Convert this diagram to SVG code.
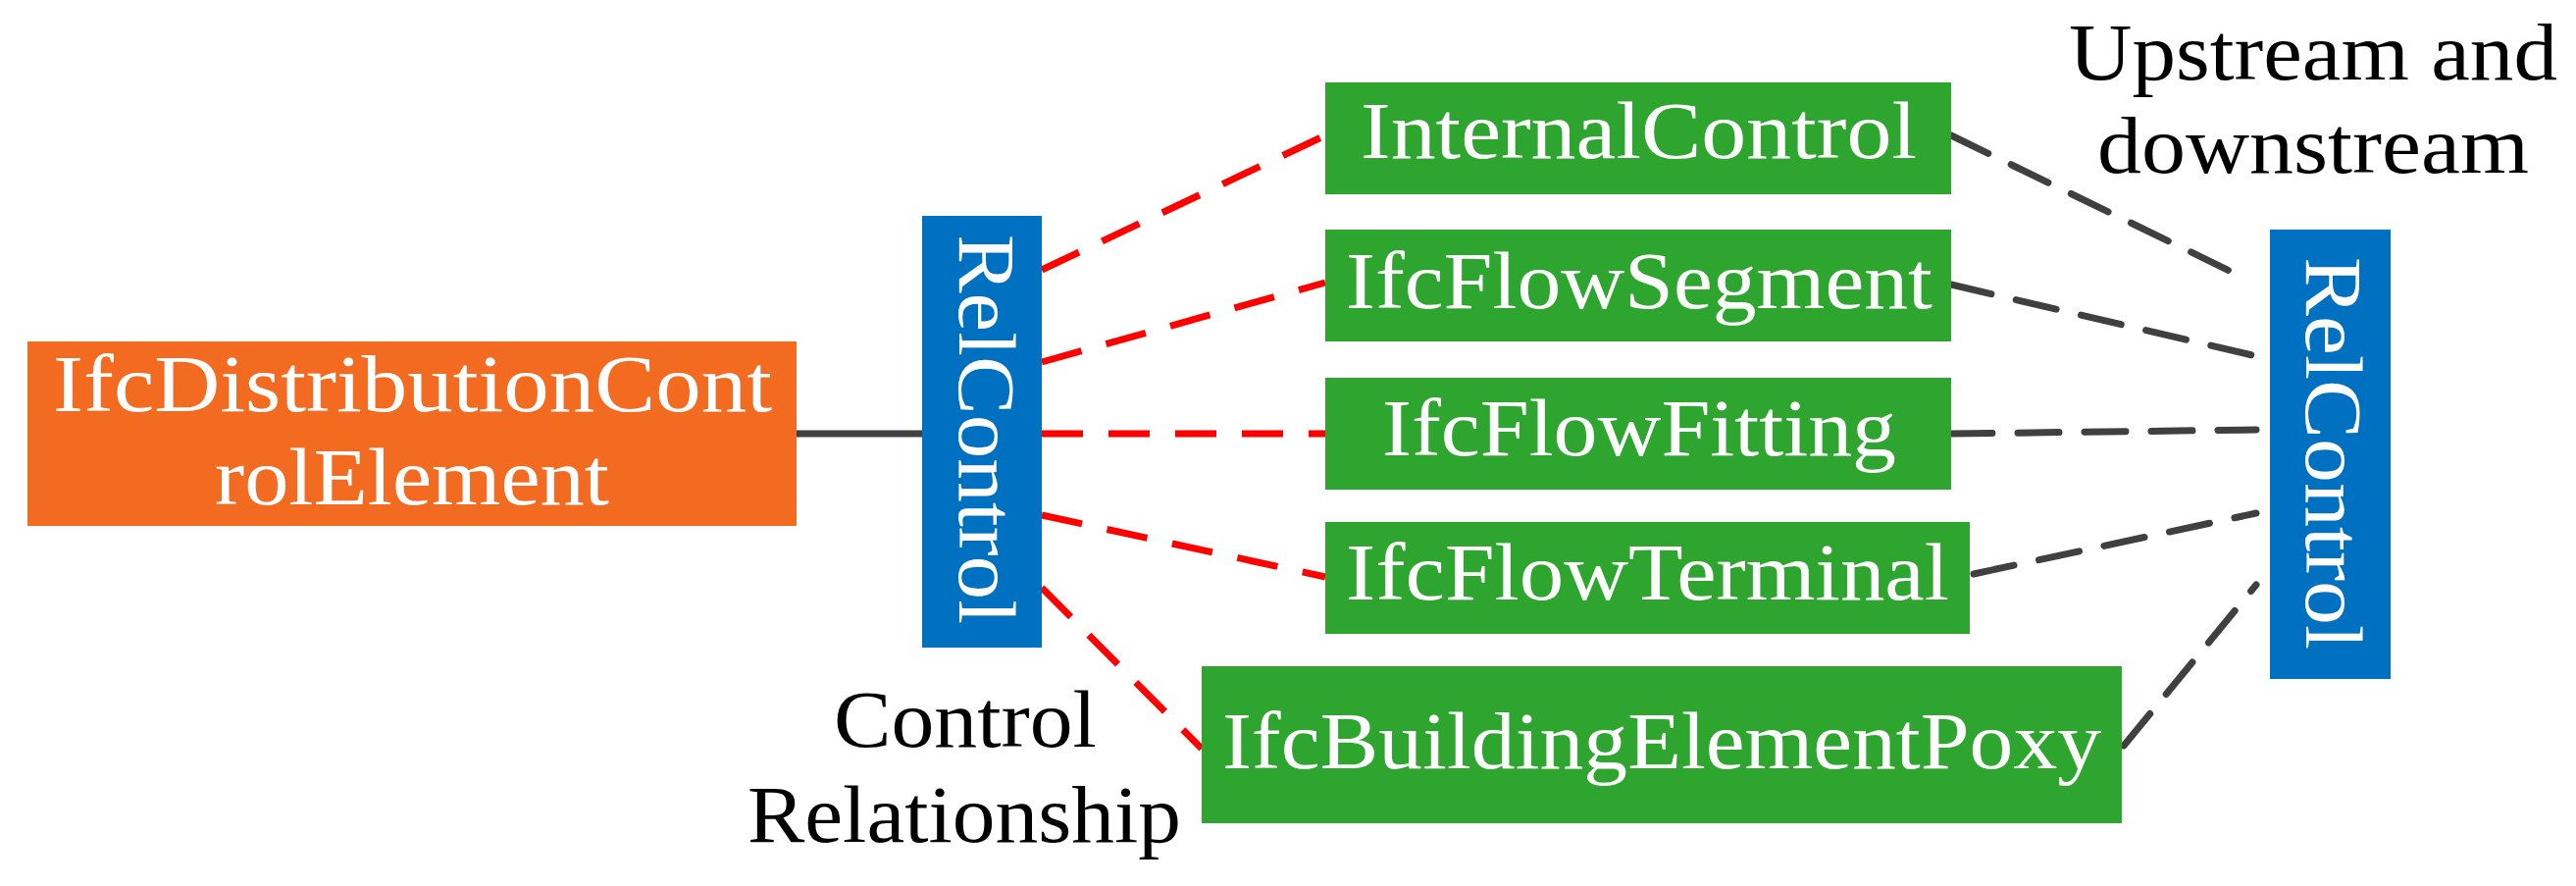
<svg xmlns="http://www.w3.org/2000/svg" width="2626" height="903" viewBox="0 0 2626 903">
<style>
text{font-family:"Liberation Serif",serif;font-size:82px}
.w{fill:#fff}.k{fill:#000}
.r{stroke:#ff0000;stroke-width:7;stroke-dasharray:42 26;fill:none}
.g{stroke:#404040;stroke-width:7;stroke-dasharray:42 26;fill:none;stroke-linecap:round}
</style>
<rect width="2626" height="903" fill="#fff"/>
<g id="connectors">
<line x1="812" y1="442" x2="940" y2="442" stroke="#404040" stroke-width="7"/>
<line class="r" x1="1062" y1="275" x2="1351" y2="138"/>
<line class="r" x1="1062" y1="369" x2="1351" y2="288"/>
<line class="r" x1="1062" y1="442" x2="1351" y2="442"/>
<line class="r" x1="1062" y1="525" x2="1351" y2="588"/>
<line class="r" x1="1062" y1="599" x2="1225" y2="763"/>
<line class="g" x1="1989" y1="138" x2="2283" y2="281"/>
<line class="g" x1="1989" y1="290" x2="2300" y2="363"/>
<line class="g" x1="1989" y1="442" x2="2300" y2="438"/>
<line class="g" x1="2012" y1="585" x2="2300" y2="523"/>
<line class="g" x1="2165" y1="760" x2="2300" y2="596"/>
</g>
<g id="dist"><rect x="28" y="348" width="784" height="188" fill="#F26B21"/>
<text class="w" x="54" y="419" textLength="733" lengthAdjust="spacingAndGlyphs">IfcDistributionCont</text>
<text class="w" x="219" y="514" textLength="402" lengthAdjust="spacingAndGlyphs">rolElement</text></g>
<g id="rel1"><rect x="940" y="220" width="122" height="440" fill="#0070C0"/>
<text class="w" transform="translate(978,239) rotate(90)" textLength="397" lengthAdjust="spacingAndGlyphs">RelControl</text></g>
<g id="ic"><rect x="1351" y="84" width="638" height="114" fill="#2EA52E"/>
<text class="w" x="1387" y="161" textLength="567" lengthAdjust="spacingAndGlyphs">InternalControl</text></g>
<g id="seg"><rect x="1351" y="234" width="638" height="114" fill="#2EA52E"/>
<text class="w" x="1372" y="314" textLength="598" lengthAdjust="spacingAndGlyphs">IfcFlowSegment</text></g>
<g id="fit"><rect x="1351" y="385" width="638" height="114" fill="#2EA52E"/>
<text class="w" x="1409" y="464" textLength="524" lengthAdjust="spacingAndGlyphs">IfcFlowFitting</text></g>
<g id="term"><rect x="1351" y="532" width="657" height="114" fill="#2EA52E"/>
<text class="w" x="1372" y="611" textLength="615" lengthAdjust="spacingAndGlyphs">IfcFlowTerminal</text></g>
<g id="bep"><rect x="1225" y="679" width="938" height="160" fill="#2EA52E"/>
<text class="w" x="1246" y="783" textLength="896" lengthAdjust="spacingAndGlyphs">IfcBuildingElementPoxy</text></g>
<g id="rel2"><rect x="2314" y="234" width="123" height="458" fill="#0070C0"/>
<text class="w" transform="translate(2351,262) rotate(90)" textLength="400" lengthAdjust="spacingAndGlyphs">RelControl</text></g>
<g id="labels">
<text class="k" x="850" y="761" textLength="268" lengthAdjust="spacingAndGlyphs">Control</text>
<text class="k" x="762" y="858" textLength="442" lengthAdjust="spacingAndGlyphs">Relationship</text>
<text class="k" x="2109" y="81" textLength="498" lengthAdjust="spacingAndGlyphs">Upstream and</text>
<text class="k" x="2138" y="176" textLength="440" lengthAdjust="spacingAndGlyphs">downstream</text>
</g>
</svg>
